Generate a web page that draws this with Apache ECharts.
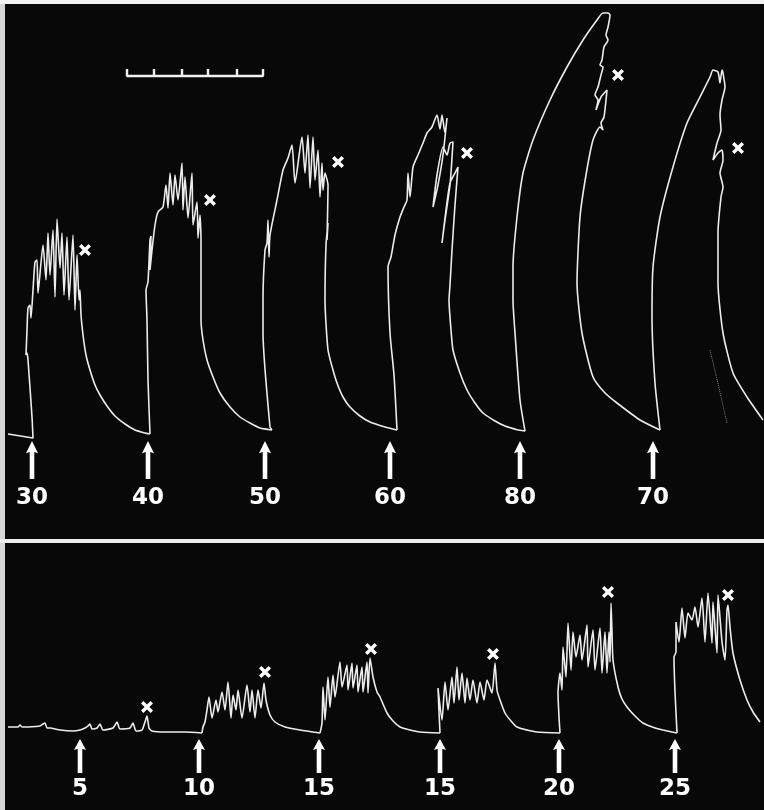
<!DOCTYPE html>
<html>
<head>
<meta charset="utf-8">
<title>Kymograph tracings</title>
<script src="https://cdn.jsdelivr.net/npm/echarts@6/dist/echarts.min.js"></script>
<style>
  html, body { margin: 0; padding: 0; background: #080808; }
  #chart { width: 764px; height: 810px; }
</style>
</head>
<body>
<div id="chart"></div>
<script>
// Two kymograph records drawn as line series. x = drum time (arbitrary units),
// y = lever height above the resting baseline (arbitrary units).

// ---- upper record: stimulus strengths and contraction tracings ----
const topLabels = ["30", "40", "50", "60", "80", "70"];
const topArrowX = [32, 148, 265, 390, 520, 653];
const topCrossX = [85, 210, 338, 467, 618, 738];
const topCrossY = [185, 235, 273, 282, 360, 287];

const trace30 = [[8,1],[33,-3],[32,18],[28,75],[27,82],[26,80],[27,105],[28,127],[30,130],[31,117],[33,145],[35,173],[37,175],[38,142],[43,190],[46,155],[48,202],[50,160],[53,205],[55,138],[57,216],[60,167],[62,202],[64,140],[67,198],[69,135],[73,200],[75,125],[77,180],[79,135],[80,145],[81,120],[83,100],[86,80],[90,65],[95,50],[100,40],[107,29],[115,19],[125,11],[135,5],[145,2],[150,1]];
const trace40 = [[150,1],[148,55],[147,115],[146,145],[148,153],[150,195],[151,199],[150,165],[152,185],[155,210],[158,223],[163,228],[166,250],[168,227],[170,262],[173,230],[175,260],[178,235],[182,272],[183,225],[185,258],[188,217],[192,262],[193,210],[197,233],[198,197],[200,220],[201,195],[201,155],[201,115],[203,95],[207,75],[213,58],[220,42],[230,28],[240,18],[250,12],[260,7],[272,5]];
const trace50 = [[272,5],[270,8],[263,102],[263,135],[265,185],[267,192],[268,215],[269,178],[270,200],[277,235],[283,265],[288,277],[292,290],[295,252],[302,298],[305,262],[308,300],[310,247],[313,298],[315,255],[318,285],[320,238],[322,272],[323,245],[325,262],[328,250],[327,195],[328,212],[326,190],[325,135],[328,85],[333,65],[337,52],[343,38],[350,28],[360,19],[370,13],[385,8],[397,5]];
const trace60 = [[397,5],[394,60],[390,102],[388,168],[391,178],[395,200],[400,218],[404,228],[407,235],[408,262],[410,238],[413,268],[418,280],[423,292],[427,302],[432,308],[437,320],[440,306],[442,320],[445,302],[447,317],[443,280],[438,250],[433,228],[437,260],[443,288],[447,280],[450,292],[453,293],[450,250],[445,215],[442,192],[446,225],[450,252],[455,262],[458,268],[455,230],[452,185],[450,150],[449,135],[451,105],[453,85],[460,62],[467,45],[475,32],[483,22],[495,14],[505,9],[518,5]];
const trace80 = [[518,5],[525,4],[520,35],[515,102],[513,135],[513,168],[517,218],[523,262],[533,295],[550,335],[567,368],[583,395],[597,415],[603,422],[608,422],[610,420],[608,408],[606,400],[608,395],[604,388],[602,375],[600,370],[603,368],[601,360],[598,348],[595,340],[598,335],[596,325],[601,338],[607,345],[604,318],[601,312],[603,305],[600,308],[593,295],[586,260],[580,218],[577,152],[582,102],[593,58],[605,42],[617,32],[640,15],[660,5]];
const trace70 = [[660,5],[655,52],[652,118],[653,168],[660,218],[673,268],[687,312],[700,338],[710,358],[713,365],[718,363],[720,352],[722,365],[723,362],[725,348],[722,335],[720,320],[721,305],[717,292],[713,275],[718,282],[722,285],[723,275],[720,262],[723,248],[721,238],[718,202],[718,152],[723,102],[733,62],[747,38],[763,15]];
const trace70ghost = [[710,85],[716,60],[721,38],[727,12]];

// time marker (five divisions)
const scaleTicksX = [127, 154, 182, 208, 237, 263];
const scaleBarY = 359;
const scaleTickY = 366;

// ---- lower record ----
const bottomLabels = ["5", "10", "15", "15", "20", "25"];
const bottomArrowX = [80, 199, 319, 440, 559, 675];
const bottomCrossX = [147, 265, 371, 493, 608, 728];
const bottomCrossY = [25, 60, 83, 78, 140, 137];

const trace5 = [[8,5],[18,5],[20,7],[22,5],[40,6],[43,8],[45,9],[47,4],[50,4],[60,2],[73,1],[80,2],[85,4],[88,6],[90,8],[92,3],[97,4],[100,8],[103,2],[113,4],[117,10],[120,3],[130,4],[133,9],[136,1],[142,2],[145,10],[147,16],[149,4],[152,1],[165,0],[185,0],[202,-1]];
const trace10 = [[202,-1],[203,5],[205,10],[207,22],[209,35],[212,14],[216,32],[218,20],[222,40],[225,22],[228,50],[231,14],[233,37],[236,22],[238,42],[242,14],[247,47],[250,20],[252,42],[255,14],[258,42],[261,24],[264,49],[266,32],[270,17],[275,10],[285,5],[300,2],[320,-1]];
const trace15a = [[320,-1],[322,9],[323,45],[325,12],[328,55],[330,25],[333,57],[335,35],[340,70],[342,45],[347,67],[348,42],[352,69],[353,44],[357,67],[358,40],[362,65],[363,40],[367,70],[368,39],[370,74],[373,55],[377,40],[380,35],[387,19],[393,11],[400,5],[410,2],[420,0],[440,-1]];
const trace15b = [[440,-1],[439,20],[438,44],[442,12],[445,50],[448,22],[452,55],[454,29],[457,65],[459,32],[462,59],[465,29],[467,54],[470,32],[473,52],[477,29],[480,50],[484,32],[487,52],[492,39],[495,69],[497,42],[500,32],[505,19],[511,11],[517,5],[527,2],[537,0],[560,-1]];
const trace20 = [[560,-1],[559,15],[558,39],[560,59],[562,42],[563,85],[566,55],[568,109],[571,62],[573,100],[576,75],[580,97],[582,72],[587,107],[588,65],[593,102],[595,62],[600,104],[602,59],[605,100],[607,59],[609,100],[610,70],[611,129],[612,100],[613,72],[618,45],[622,33],[627,25],[635,16],[643,9],[655,4],[663,2],[677,-1]];
const trace25 = [[677,-1],[675,40],[674,75],[676,80],[676,110],[679,90],[682,124],[685,94],[688,119],[692,112],[695,125],[698,105],[702,134],[705,90],[708,139],[712,89],[713,130],[717,79],[718,137],[722,90],[725,72],[727,122],[728,127],[730,105],[733,79],[740,52],[747,32],[753,20],[760,10]];

const INK = "#ececec";
const FONT = "DejaVu Sans";
const ARROW = "path://M6,0L12,13L8.3,11.5L8.3,40L3.7,40L3.7,11.5L0,13Z";
const CROSS = "path://M0,2L2,0L5,3L8,0L10,2L7,5L10,8L8,10L5,7L2,10L0,8L3,5Z";

function hiddenAxis(extra) {
  return Object.assign({
    type: "value",
    axisLine: { show: false },
    axisTick: { show: false },
    axisLabel: { show: false },
    splitLine: { show: false },
  }, extra);
}

function traceSeries(data, xi, yi, style, smooth) {
  return {
    type: "line",
    xAxisIndex: xi,
    yAxisIndex: yi,
    data,
    symbol: "none",
    smooth: smooth === undefined ? 0.2 : smooth,
    silent: true,
    clip: false,
    lineStyle: Object.assign({ color: INK, width: 1.6 }, style || {}),
  };
}

function arrowSeries(xs, labels, y, size, dist, xi, yi) {
  return {
    type: "scatter",
    xAxisIndex: xi,
    yAxisIndex: yi,
    symbol: ARROW,
    symbolSize: size,
    itemStyle: { color: "#ffffff", opacity: 1 },
    silent: true,
    data: xs.map((x, i) => ({ name: labels[i], value: [x, y] })),
    label: {
      show: true,
      position: "bottom",
      distance: dist,
      formatter: (p) => p.name,
      color: "#ffffff",
      opacity: 1,
      fontFamily: FONT,
      fontWeight: "bold",
      fontSize: 23,
    },
  };
}

function crossSeries(xs, ys, xi, yi) {
  return {
    type: "scatter",
    xAxisIndex: xi,
    yAxisIndex: yi,
    symbol: CROSS,
    symbolSize: 12,
    itemStyle: { color: "#ffffff", opacity: 1 },
    silent: true,
    data: xs.map((x, i) => [x, ys[i]]),
  };
}

// scale bar: horizontal bar with a short upward tick at each division
const scaleBarLine = [[scaleTicksX[0], scaleTickY], [scaleTicksX[0], scaleBarY]];
scaleTicksX.slice(1).forEach((x) => {
  scaleBarLine.push([x, scaleBarY], [x, scaleTickY], [x, scaleBarY]);
});

const chart = echarts.init(document.getElementById("chart"), null, { renderer: "canvas" });

chart.setOption({
  backgroundColor: "#080808",
  animation: false,
  grid: [
    { left: 0, right: 0, top: 0, height: 541, outerBoundsMode: "none" },
    { left: 0, right: 0, top: 543, bottom: 0, outerBoundsMode: "none" },
  ],
  xAxis: [
    hiddenAxis({
      gridIndex: 0, min: 0, max: 764, position: "bottom",
      axisLine: { show: true, onZero: false, lineStyle: { color: "#ececec", width: 4 } },
    }),
    hiddenAxis({
      gridIndex: 0, min: 0, max: 764, position: "top",
      axisLine: { show: true, onZero: false, lineStyle: { color: "#f2f2f2", width: 8 } },
    }),
    hiddenAxis({ gridIndex: 1, min: 0, max: 764 }),
  ],
  yAxis: [
    hiddenAxis({
      gridIndex: 0, min: -106, max: 435,
      axisLine: { show: true, onZero: false, lineStyle: { color: "#d6d6d6", width: 9 } },
    }),
    hiddenAxis({
      gridIndex: 1, min: -78, max: 189,
      axisLine: { show: true, onZero: false, lineStyle: { color: "#d6d6d6", width: 9 } },
    }),
  ],
  series: [
    traceSeries(trace30, 0, 0),
    traceSeries(trace40, 0, 0),
    traceSeries(trace50, 0, 0),
    traceSeries(trace60, 0, 0),
    traceSeries(trace80, 0, 0),
    traceSeries(trace70, 0, 0),
    traceSeries(trace70ghost, 0, 0, { type: "dotted", width: 1, opacity: 0.5 }),
    traceSeries(scaleBarLine, 0, 0, { width: 2.4, color: "#f2f2f2" }, false),
    arrowSeries(topArrowX, topLabels, -25, [12, 38], 8, 0, 0),
    crossSeries(topCrossX, topCrossY, 0, 0),

    traceSeries(trace5, 2, 1),
    traceSeries(trace10, 2, 1),
    traceSeries(trace15a, 2, 1),
    traceSeries(trace15b, 2, 1),
    traceSeries(trace20, 2, 1),
    traceSeries(trace25, 2, 1),
    arrowSeries(bottomArrowX, bottomLabels, -24, [12, 34], 5, 2, 1),
    crossSeries(bottomCrossX, bottomCrossY, 2, 1),
  ],
});
</script>
</body>
</html>
